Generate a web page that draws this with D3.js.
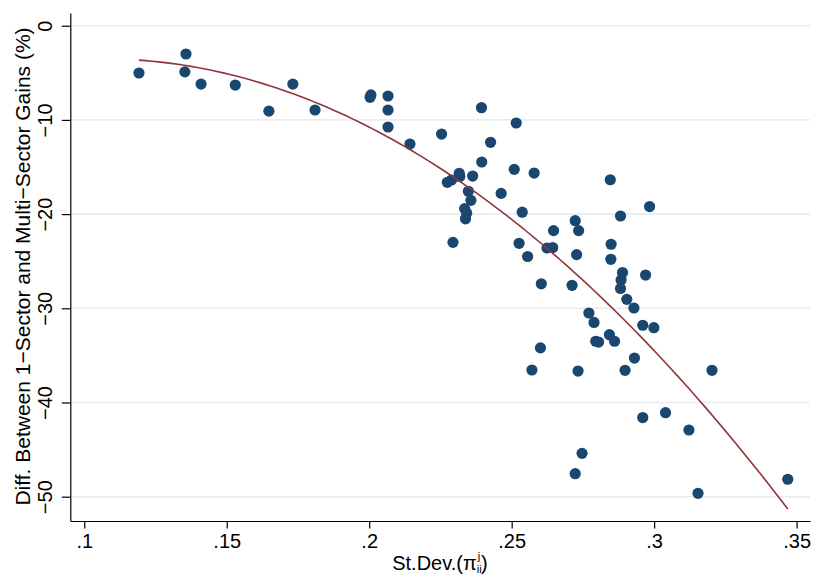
<!DOCTYPE html>
<html>
<head>
<meta charset="utf-8">
<script src="https://cdn.jsdelivr.net/npm/d3@7"></script>
<style>
  body { margin: 0; background: #fff; }
  svg text { font-family: "Liberation Sans", Arial, Helvetica, sans-serif; fill: #000; }
</style>
</head>
<body>
<svg id="chart" width="813" height="578"></svg>
<script>
// St.Dev.(pi_ii^j) on x, gain difference (%) on y
const stdDev = [
  0.1192, 0.1357, 0.1353, 0.1410, 0.1530, 0.1648, 0.1732, 0.1810,
  0.2003, 0.2006, 0.2066, 0.2066, 0.2066, 0.2143, 0.2254, 0.2394,
  0.2516, 0.2426, 0.2395, 0.2316, 0.2318, 0.2289, 0.2274, 0.2363,
  0.2509, 0.2579, 0.2846, 0.2348, 0.2357, 0.2463, 0.2335, 0.2342,
  0.2338, 0.2537, 0.2984, 0.2882, 0.2294, 0.2723, 0.2735, 0.2647,
  0.2526, 0.2624, 0.2644, 0.2556, 0.2728, 0.2849, 0.2848, 0.2604,
  0.2712, 0.2889, 0.2970, 0.2884, 0.2882, 0.2904, 0.2929, 0.2771,
  0.2789, 0.2960, 0.2999, 0.2843, 0.2861, 0.2795, 0.2805, 0.2601,
  0.2931, 0.2571, 0.2733, 0.2898, 0.3203, 0.3040, 0.2960, 0.3122,
  0.2747, 0.2723, 0.3154, 0.3469
];
const gainDiff = [
  -5.02, -3.0, -4.9, -6.2, -6.3, -9.07, -6.2, -8.95,
  -7.6, -7.35, -7.46, -8.95, -10.75, -12.56, -11.5, -8.7,
  -10.33, -12.38, -14.47, -15.67, -16.0, -16.38, -16.63, -15.96,
  -15.25, -15.64, -16.35, -17.58, -18.54, -17.8, -19.42, -19.9,
  -20.5, -19.8, -19.2, -20.2, -23.0, -20.7, -21.75, -21.75,
  -23.1, -23.6, -23.55, -24.5, -24.3, -23.2, -24.8, -27.4,
  -27.56, -26.2, -26.47, -27.0, -27.9, -29.05, -29.97, -30.5,
  -31.5, -31.8, -32.06, -32.8, -33.5, -33.5, -33.58, -34.2,
  -35.28, -36.55, -36.66, -36.58, -36.58, -41.08, -41.6, -42.92,
  -45.4, -47.56, -49.64, -48.15
];
const xTicks = [0.1, 0.15, 0.2, 0.25, 0.3, 0.35];
const yTicks = [0, -10, -20, -30, -40, -50];

const svg = d3.select('#chart');
const x = d3.scaleLinear().domain([0.0951, 0.3547]).range([70.3, 810]);
const y = d3.scaleLinear().domain([1.35, -52.58]).range([13, 521]);

// grid
svg.append('g')
  .selectAll('line')
  .data(yTicks)
  .enter()
  .append('line')
  .attr('x1', 70.3)
  .attr('x2', 810)
  .attr('y1', d => y(d))
  .attr('y2', d => y(d))
  .attr('stroke', '#e6eef1')
  .attr('stroke-width', 1.6);

// axes
const xAxis = svg.append('g')
  .attr('transform', 'translate(0,521)')
  .call(d3.axisBottom(x).tickValues(xTicks).tickSize(7.5).tickSizeOuter(0)
    .tickFormat(d => d3.format('.2~f')(d).replace(/^0/, '')));
xAxis.selectAll('text')
  .attr('y', 27)
  .attr('dy', 0)
  .style('font-size', '20px');

const yAxis = svg.append('g')
  .attr('transform', 'translate(70.3,0)')
  .call(d3.axisLeft(y).tickValues(yTicks).tickSize(8.5).tickSizeOuter(0)
    .tickFormat(d3.format('d')));
yAxis.selectAll('text')
  .attr('transform', 'rotate(-90)')
  .attr('x', 0)
  .attr('y', -18.5)
  .attr('dy', 0)
  .attr('text-anchor', 'middle')
  .style('font-size', '20px');

svg.selectAll('.domain, .tick line').attr('stroke', '#000').attr('stroke-width', 1.2);

// quadratic fit from the points
const n = stdDev.length;
const S = [0, 0, 0, 0, 0], T = [0, 0, 0];
for (let i = 0; i < n; i++) {
  const xv = stdDev[i];
  for (let k = 0; k < 5; k++) S[k] += Math.pow(xv, k);
  for (let k = 0; k < 3; k++) T[k] += gainDiff[i] * Math.pow(xv, k);
}
const M = [
  [S[0], S[1], S[2], T[0]],
  [S[1], S[2], S[3], T[1]],
  [S[2], S[3], S[4], T[2]]
];
for (let c = 0; c < 3; c++) {
  for (let r = c + 1; r < 3; r++) {
    const f = M[r][c] / M[c][c];
    for (let k = c; k < 4; k++) M[r][k] -= f * M[c][k];
  }
}
const coef = [0, 0, 0];
for (let r = 2; r >= 0; r--) {
  let s = M[r][3];
  for (let k = r + 1; k < 3; k++) s -= M[r][k] * coef[k];
  coef[r] = s / M[r][r];
}
const [xmin, xmax] = d3.extent(stdDev);
const fitPts = d3.range(0, 101).map(i => {
  const xv = xmin + (xmax - xmin) * i / 100;
  return [xv, coef[0] + coef[1] * xv + coef[2] * xv * xv];
});

// points
svg.append('g')
  .selectAll('circle')
  .data(stdDev)
  .enter()
  .append('circle')
  .attr('cx', d => x(d))
  .attr('cy', (d, i) => y(gainDiff[i]))
  .attr('r', 5.6)
  .attr('fill', '#1a476f');

svg.append('path')
  .datum(fitPts)
  .attr('fill', 'none')
  .attr('stroke', '#90353b')
  .attr('stroke-width', 1.6)
  .attr('d', d3.line().x(d => x(d[0])).y(d => y(d[1])));

// titles
const xt = svg.append('text')
  .attr('x', 440)
  .attr('y', 570)
  .attr('text-anchor', 'middle')
  .style('font-size', '20px');
xt.append('tspan').text('St.Dev.(\u03c0');
xt.append('tspan').attr('dy', 3).style('font-size', '11px').text('ii');
xt.append('tspan').attr('dx', -4).attr('dy', -13).style('font-size', '11px').text('j');
xt.append('tspan').attr('dx', 1).attr('dy', 10).text(')');

svg.append('text')
  .attr('transform', 'translate(29.5,266.5) rotate(-90)')
  .attr('text-anchor', 'middle')
  .style('font-size', '21px')
  .text('Diff. Between 1\u2212Sector and Multi\u2212Sector Gains (%)');
</script>
</body>
</html>
